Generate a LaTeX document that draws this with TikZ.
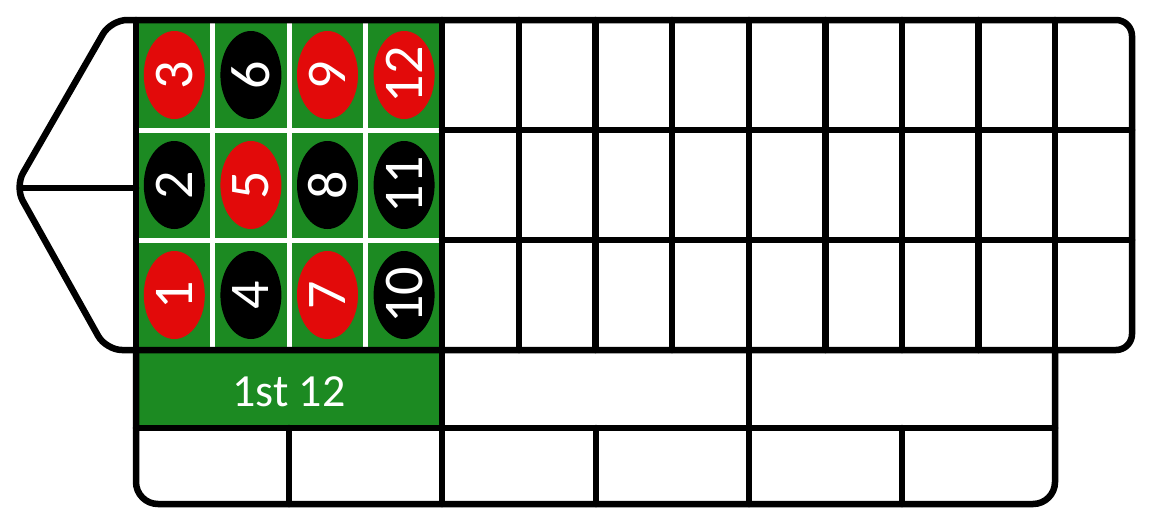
\documentclass[tikz,border=0pt]{standalone}
\usepackage{fontspec}
\setmainfont{Carlito}
\usetikzlibrary{shapes.geometric}
\definecolor{felt}{HTML}{1C8A22}
\definecolor{rred}{HTML}{E20A0A}
\tikzset{
 bline/.style={line width=6.5pt, line cap=round, line join=round},
 wline/.style={white, line width=5pt},
 num/.style={ellipse, minimum width=88pt, minimum height=61pt, inner sep=0pt, rotate=90, text=white, font=\fontsize{56}{60}\selectfont},
 rnum/.style={num, fill=rred},
 knum/.style={num, fill=black},
 dozen/.style={text=white, font=\fontsize{46}{50}\selectfont, inner sep=0pt},
}
\begin{document}
\begin{tikzpicture}[x=1pt,y=-1pt]
\useasboundingbox (0,0) rectangle (1150,531);
% felt
\fill[felt] (136,20) rectangle (442,428);
% white lines on felt
\foreach \i in {1,2,3} \draw[wline] ({136+76.6*\i},20) -- ({136+76.6*\i},350);
\foreach \y in {130,240,350} \draw[wline] (136,\y) -- (442,\y);
% numbers
\foreach \n/\c/\r/\s in {3/0/0/rnum,6/1/0/knum,9/2/0/rnum,12/3/0/rnum,
                         2/0/1/knum,5/1/1/rnum,8/2/1/knum,11/3/1/knum,
                         1/0/2/rnum,4/1/2/knum,7/2/2/rnum,10/3/2/knum}
  \node[\s] (n\n) at ({136+76.6*(\c+0.5)},{75+110*\r}) {\n};
\node[dozen] (d1) at (289,392) {1st 12};
% outline
\draw[bline, rounded corners=16] (136,350) -- (106,350) -- (15,187) -- (111,20) -- (1132,20) -- (1132,350) -- (136,350);
\draw[bline, rounded corners=22] (1055,350) -- (1055,504) -- (136,504) -- (136,350);
\draw[bline] (136,20) -- (136,350);
\coordinate (ztip) at (22,188);
\coordinate (zend) at (136,188);
\draw[bline] (ztip) -- (zend);
% grid
\draw[bline] (442,20) -- (442,504);
\foreach \i in {5,6,7,9,10,11,12} \draw[bline] ({136+76.6*\i},20) -- ({136+76.6*\i},350);
\draw[bline] (749,20) -- (749,504);
\foreach \y in {130,240} \draw[bline] (442,\y) -- (1132,\y);
\draw[bline] (136,428) -- (1055,428);
\foreach \x in {289,596,902} \draw[bline] (\x,428) -- (\x,504);
\end{tikzpicture}
\end{document}
